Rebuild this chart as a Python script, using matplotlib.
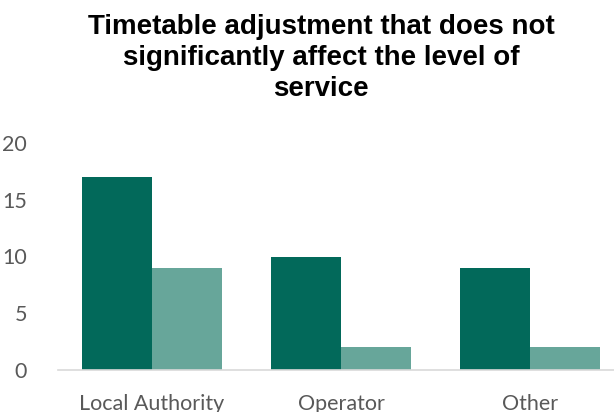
import matplotlib
import matplotlib.pyplot as plt
import numpy as np

matplotlib.use("Agg")

categories = ["Local Authority", "Operator", "Other"]
series_dark = [17, 10, 9]
series_light = [9, 2, 2]
yticks = [0, 5, 10, 15, 20]

dark = "#02695A"
light = "#67A69A"
grey = "#595959"

fig = plt.figure(figsize=(6.14, 4.12), dpi=100)
ax = fig.add_axes([57.5 / 614, 1 - 370 / 412, 567 / 614, 227 / 412])

x = np.arange(len(categories))
w = 0.37
ax.bar(x - w / 2, series_dark, w, color=dark, linewidth=0)
ax.bar(x + w / 2, series_light, w, color=light, linewidth=0)

ax.set_xlim(-0.5, len(categories) - 0.5)
ax.set_ylim(0, 20)
ax.set_yticks(yticks)
ax.set_xticks(x)
ax.set_xticklabels(categories)

for s in ["top", "right", "left"]:
    ax.spines[s].set_visible(False)
ax.spines["bottom"].set_color("#D9D9D9")
ax.spines["bottom"].set_linewidth(1.2)
ax.tick_params(length=0, labelsize=15.5, labelcolor=grey)
ax.tick_params(axis="x", pad=17)
ax.tick_params(axis="y", pad=22)
for lab in ax.get_xticklabels() + ax.get_yticklabels():
    lab.set_family("Lato")

fig.text(0.523, 0.965,
         "Timetable adjustment that does not\nsignificantly affect the level of\nservice",
         ha="center", va="top", fontsize=20, fontweight="bold",
         family="Liberation Sans", linespacing=1.25)

fig.savefig("out.png", dpi=100)
